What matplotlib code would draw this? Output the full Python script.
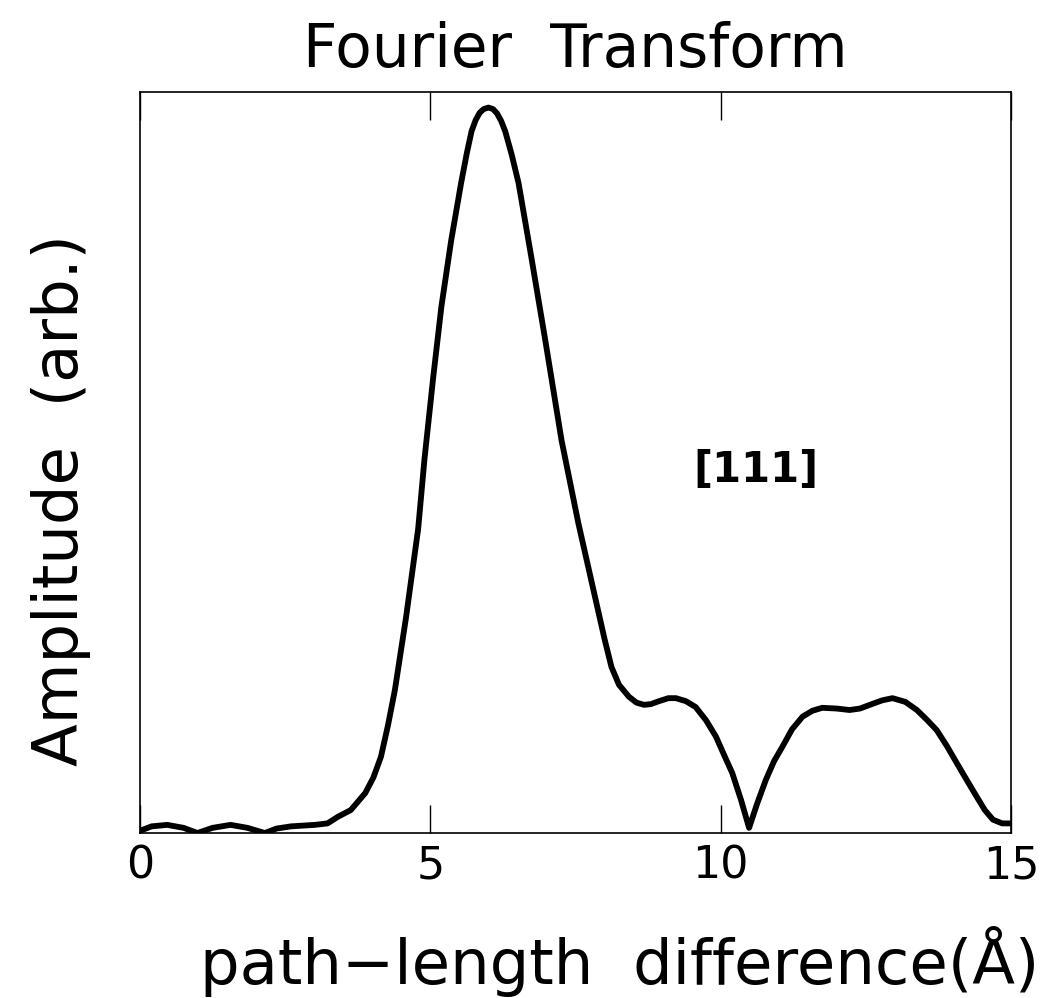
import numpy as np
import matplotlib.pyplot as plt

plt.rcParams['font.family'] = ['DejaVu Sans']

# path-length difference (Angstrom) and FT amplitude (arb.)
r = [0.00, 0.20, 0.47, 0.75, 0.99, 1.25, 1.56, 1.85, 2.15, 2.35, 2.60, 3.01,
     3.23, 3.41, 3.63, 3.88, 4.02, 4.15, 4.27, 4.39, 4.58, 4.79, 4.90, 5.05,
     5.19, 5.36, 5.53, 5.63, 5.71, 5.78, 5.85, 5.92, 6.00, 6.08, 6.15, 6.22,
     6.29, 6.40, 6.52, 6.74, 6.98, 7.26, 7.55, 7.85, 8.00, 8.12, 8.25, 8.42,
     8.55, 8.68, 8.80, 8.94, 9.10, 9.23, 9.40, 9.57, 9.75, 9.92, 10.05, 10.20,
     10.35, 10.49, 10.63, 10.78, 10.92, 11.06, 11.23, 11.41, 11.58, 11.75,
     12.00, 12.22, 12.40, 12.57, 12.78, 12.96, 13.18, 13.38, 13.55, 13.72,
     13.90, 14.07, 14.25, 14.41, 14.55, 14.69, 14.85, 15.00]
amp = [0.003, 0.009, 0.011, 0.007, 0.000, 0.007, 0.011, 0.007, 0.000, 0.006,
       0.009, 0.011, 0.013, 0.022, 0.031, 0.054, 0.075, 0.103, 0.145, 0.193,
       0.290, 0.410, 0.505, 0.615, 0.710, 0.800, 0.877, 0.918, 0.947, 0.962,
       0.972, 0.977, 0.979, 0.977, 0.971, 0.961, 0.947, 0.916, 0.877, 0.777,
       0.665, 0.530, 0.418, 0.314, 0.262, 0.224, 0.200, 0.184, 0.176, 0.173,
       0.174, 0.178, 0.182, 0.182, 0.178, 0.170, 0.152, 0.130, 0.107, 0.081,
       0.045, 0.007, 0.040, 0.072, 0.097, 0.116, 0.140, 0.157, 0.165, 0.169,
       0.168, 0.166, 0.168, 0.173, 0.179, 0.182, 0.177, 0.166, 0.153, 0.139,
       0.117, 0.094, 0.070, 0.049, 0.031, 0.018, 0.013, 0.013]
xticks = [0, 5, 10, 15]

fig = plt.figure(figsize=(10.51, 9.98), dpi=100)
ax = fig.add_axes([0.1332, 0.1653, 0.8287, 0.7425])
ax.plot(r, amp, color='black', linewidth=4.2, solid_joinstyle='round', solid_capstyle='round')

ax.set_xlim(0, 15)
ax.set_ylim(0, 1)
ax.set_xticks(xticks)
ax.set_xticklabels([str(t) for t in xticks], fontsize=32)
ax.set_yticks([])
ax.tick_params(axis='x', direction='in', length=20, width=1, top=True, pad=8)
for s in ax.spines.values():
    s.set_linewidth(1.2)

ax.set_title('Fourier  Transform', fontsize=43, pad=18)
ax.set_xlabel('path\u2212length  difference(Å)', fontsize=45)
ax.xaxis.set_label_coords(0.551, -0.125)
ax.set_ylabel('Amplitude  (arb.)', fontsize=45)
ax.yaxis.set_label_coords(-0.056, 0.45)
ax.text(10.6, 0.49, '[111]', fontsize=30, fontweight='bold', ha='center', va='center')

plt.savefig('out.png', dpi=100)
